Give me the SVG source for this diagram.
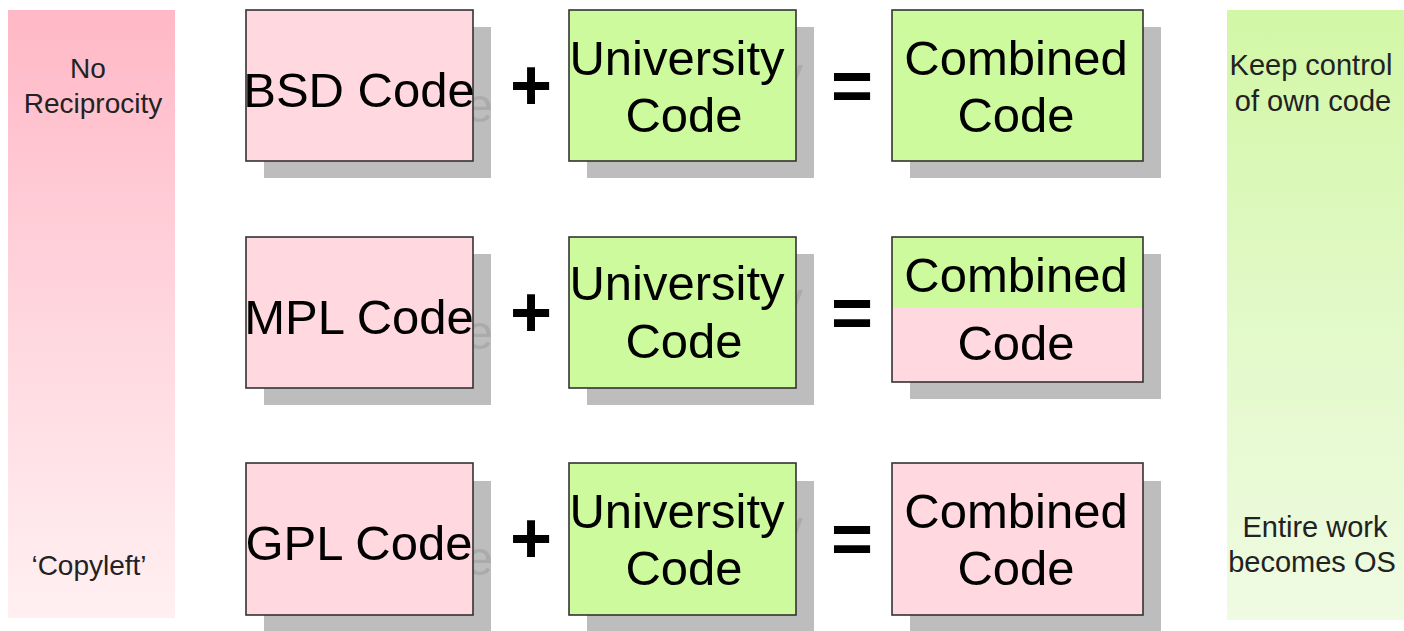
<svg xmlns="http://www.w3.org/2000/svg" width="1404" height="631" viewBox="0 0 1404 631">
  <defs>
    <linearGradient id="pinkBar" x1="0" y1="0" x2="0" y2="1">
      <stop offset="0" stop-color="#ffb8c6"/>
      <stop offset="0.5" stop-color="#ffd6de"/>
      <stop offset="1" stop-color="#fff0f2"/>
    </linearGradient>
    <linearGradient id="greenBar" x1="0" y1="0" x2="0" y2="1">
      <stop offset="0" stop-color="#d2f7a6"/>
      <stop offset="0.5" stop-color="#e2f9c8"/>
      <stop offset="1" stop-color="#effbe2"/>
    </linearGradient>
    <style>
      .side { font-family: "Liberation Sans", Arial, sans-serif; font-size: 28px; fill: #222; text-anchor: middle; }
      .side-r { font-size: 29px; }
      .box { stroke: #333; stroke-width: 1.6; }
      .pink { fill: #ffd8e0; }
      .green { fill: #ccfa9c; }
      .shadow { fill: #bdbdbd; }
      .label { font-family: "Liberation Sans", Arial, sans-serif; font-size: 49px; fill: #000; text-anchor: middle; }
      .ghost { font-family: "Liberation Sans", Arial, sans-serif; font-size: 49px; fill: #ababab; text-anchor: end; }
      .op { font-family: "Liberation Sans", Arial, sans-serif; font-size: 72px; font-weight: bold; fill: #000; text-anchor: middle; }
    </style>
  </defs>

  <rect width="1404" height="631" fill="#fff"/>

  <!-- side scale bars -->
  <g id="scale-left">
    <rect x="8" y="10" width="167" height="608" fill="url(#pinkBar)"/>
    <text class="side" x="88" y="78">No</text>
    <text class="side" x="93" y="113">Reciprocity</text>
    <text class="side" x="89" y="575">‘Copyleft’</text>
  </g>
  <g id="scale-right">
    <rect x="1227" y="10" width="177" height="610" fill="url(#greenBar)"/>
    <text class="side side-r" x="1311" y="75">Keep control</text>
    <text class="side side-r" x="1313" y="111">of own code</text>
    <text class="side side-r" x="1315" y="537">Entire work</text>
    <text class="side side-r" x="1312" y="572">becomes OS</text>
  </g>

  <!-- row 1: BSD (shadow glyph peeks out past the box edge) -->
  <g id="bsd-code">
    <rect class="shadow" x="264" y="27" width="227" height="151"/>
    <text class="ghost" x="493" y="122">e</text>
    <rect class="box pink" x="246" y="10" width="227" height="151"/>
    <text class="label" x="359" y="107">BSD Code</text>
  </g>
  <g id="plus-1"><text class="op" x="531" y="110">+</text></g>
  <g id="university-code-1">
    <rect class="shadow" x="587" y="27" width="227" height="151"/>
    <text class="ghost" x="803" y="91">y</text>
    <rect class="box green" x="569" y="10" width="227" height="151"/>
    <text class="label" x="677" y="75">University</text>
    <text class="label" x="684" y="132">Code</text>
  </g>
  <g id="equals-1"><text class="op" x="852" y="110">=</text></g>
  <g id="combined-code-1">
    <rect class="shadow" x="910" y="27" width="251" height="151"/>
    <rect class="box green" x="892" y="10" width="251" height="151"/>
    <text class="label" x="1016" y="75">Combined</text>
    <text class="label" x="1016" y="132">Code</text>
  </g>

  <!-- row 2: MPL -->
  <g id="mpl-code">
    <rect class="shadow" x="264" y="254" width="227" height="151"/>
    <text class="ghost" x="493" y="349">e</text>
    <rect class="box pink" x="246" y="237" width="227" height="151"/>
    <text class="label" x="359" y="334">MPL Code</text>
  </g>
  <g id="plus-2"><text class="op" x="531" y="337">+</text></g>
  <g id="university-code-2">
    <rect class="shadow" x="587" y="254" width="227" height="151"/>
    <text class="ghost" x="803" y="316">y</text>
    <rect class="box green" x="569" y="237" width="227" height="151"/>
    <text class="label" x="677" y="300">University</text>
    <text class="label" x="684" y="358">Code</text>
  </g>
  <g id="equals-2"><text class="op" x="852" y="337">=</text></g>
  <g id="combined-code-2">
    <rect class="shadow" x="910" y="254" width="251" height="145"/>
    <rect class="green" x="892" y="237" width="251" height="71"/>
    <rect class="pink" x="892" y="308" width="251" height="74"/>
    <rect class="box" fill="none" x="892" y="237" width="251" height="145"/>
    <text class="label" x="1016" y="292">Combined</text>
    <text class="label" x="1016" y="360">Code</text>
  </g>

  <!-- row 3: GPL -->
  <g id="gpl-code">
    <rect class="shadow" x="264" y="481" width="227" height="152"/>
    <text class="ghost" x="493" y="575">e</text>
    <rect class="box pink" x="246" y="463" width="227" height="152"/>
    <text class="label" x="359" y="560">GPL Code</text>
  </g>
  <g id="plus-3"><text class="op" x="531" y="563">+</text></g>
  <g id="university-code-3">
    <rect class="shadow" x="587" y="481" width="227" height="152"/>
    <text class="ghost" x="803" y="544">y</text>
    <rect class="box green" x="569" y="463" width="227" height="152"/>
    <text class="label" x="677" y="528">University</text>
    <text class="label" x="684" y="585">Code</text>
  </g>
  <g id="equals-3"><text class="op" x="852" y="563">=</text></g>
  <g id="combined-code-3">
    <rect class="shadow" x="910" y="481" width="251" height="152"/>
    <rect class="box pink" x="892" y="463" width="251" height="152"/>
    <text class="label" x="1016" y="528">Combined</text>
    <text class="label" x="1016" y="585">Code</text>
  </g>
</svg>
